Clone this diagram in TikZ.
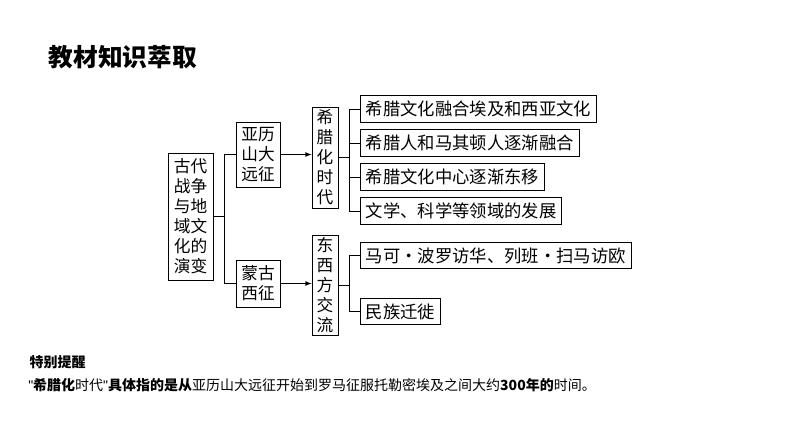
\documentclass[tikz,border=0pt]{standalone}
\usepackage{fontspec}
\setmainfont{Noto Sans CJK SC}
\newfontfamily\latinfont{Liberation Sans}
\newcommand\dq{{\latinfont\symbol{34}}}
\usetikzlibrary{positioning}
\begin{document}
\begin{tikzpicture}[x=0.75pt,y=-0.75pt,
  box/.style={draw,semithick,inner sep=0pt,font=\fontsize{12.5}{15}\selectfont,align=center},
  leaf/.style={box,anchor=west,minimum height=20pt,inner xsep=4pt,font=\fontsize{13}{15}\selectfont},
  link/.style={semithick},
  go/.style={semithick,-latex}]
\useasboundingbox (0,0) rectangle (794,447);
\node[font=\fontsize{18.5}{22}\selectfont\bfseries,anchor=west] (title) at (44,57) {教材知识萃取};
% left column
\node[box,minimum width=45*0.75pt,minimum height=127*0.75pt] (root) at (190.5,216.5) {古代\\战争\\与地\\域文\\化的\\演变};
\node[box,minimum width=44*0.75pt,minimum height=65*0.75pt] (alex) at (258,154.5) {亚历\\山大\\远征};
\node[box,minimum width=44*0.75pt,minimum height=47*0.75pt] (mongol) at (258,283.5) {蒙古\\西征};
\node[box,minimum width=26*0.75pt,minimum height=101*0.75pt] (hellen) at (325,157.5) {希\\腊\\化\\时\\代};
\node[box,minimum width=26*0.75pt,minimum height=100*0.75pt] (east) at (325,285) {东\\西\\方\\交\\流};
% leaves
\node[leaf] (l1) at (360,109) {希腊文化融合埃及和西亚文化};
\node[leaf] (l2) at (360,143) {希腊人和马其顿人逐渐融合};
\node[leaf] (l3) at (360,177) {希腊文化中心逐渐东移};
\node[leaf] (l4) at (360,211) {文学、科学等领域的发展};
\node[leaf] (l5) at (360,255.5) {马可·波罗访华、列班·扫马访欧};
\node[leaf] (l6) at (360,311.5) {民族迁徙};
% connectors
\coordinate (b1) at (224,216.5);
\draw[link] (root.east) -- (b1);
\draw[link] (alex.west) -- (b1 |- alex.west) -- (b1 |- mongol.west) -- (mongol.west);
\draw[go] (alex.east) -- (hellen.west |- alex.east);
\draw[go] (mongol.east) -- (east.west |- mongol.east);
\coordinate (b2) at (349,157.5);
\draw[link] (hellen.east) -- (b2);
\draw[link] (b2 |- l1.west) -- (b2 |- l4.west);
\foreach \n in {l1,l2,l3,l4} \draw[link] (b2 |- \n.west) -- (\n.west);
\coordinate (b3) at (349,285);
\draw[link] (east.east) -- (b3);
\draw[link] (b3 |- l5.west) -- (b3 |- l6.west);
\foreach \n in {l5,l6} \draw[link] (b3 |- \n.west) -- (\n.west);
% note
\node[font=\fontsize{10.5}{12}\selectfont\bfseries,anchor=west] (tip) at (25,362) {特别提醒};
\node[font=\fontsize{10.5}{12}\selectfont,anchor=west,inner xsep=0pt] (note) at (28,385) {\dq\textbf{希腊化}时代\dq\textbf{具体指的是从}亚历山大远征开始到罗马征服托勒密埃及之间大约\textbf{300年的}时间。};
\end{tikzpicture}
\end{document}
